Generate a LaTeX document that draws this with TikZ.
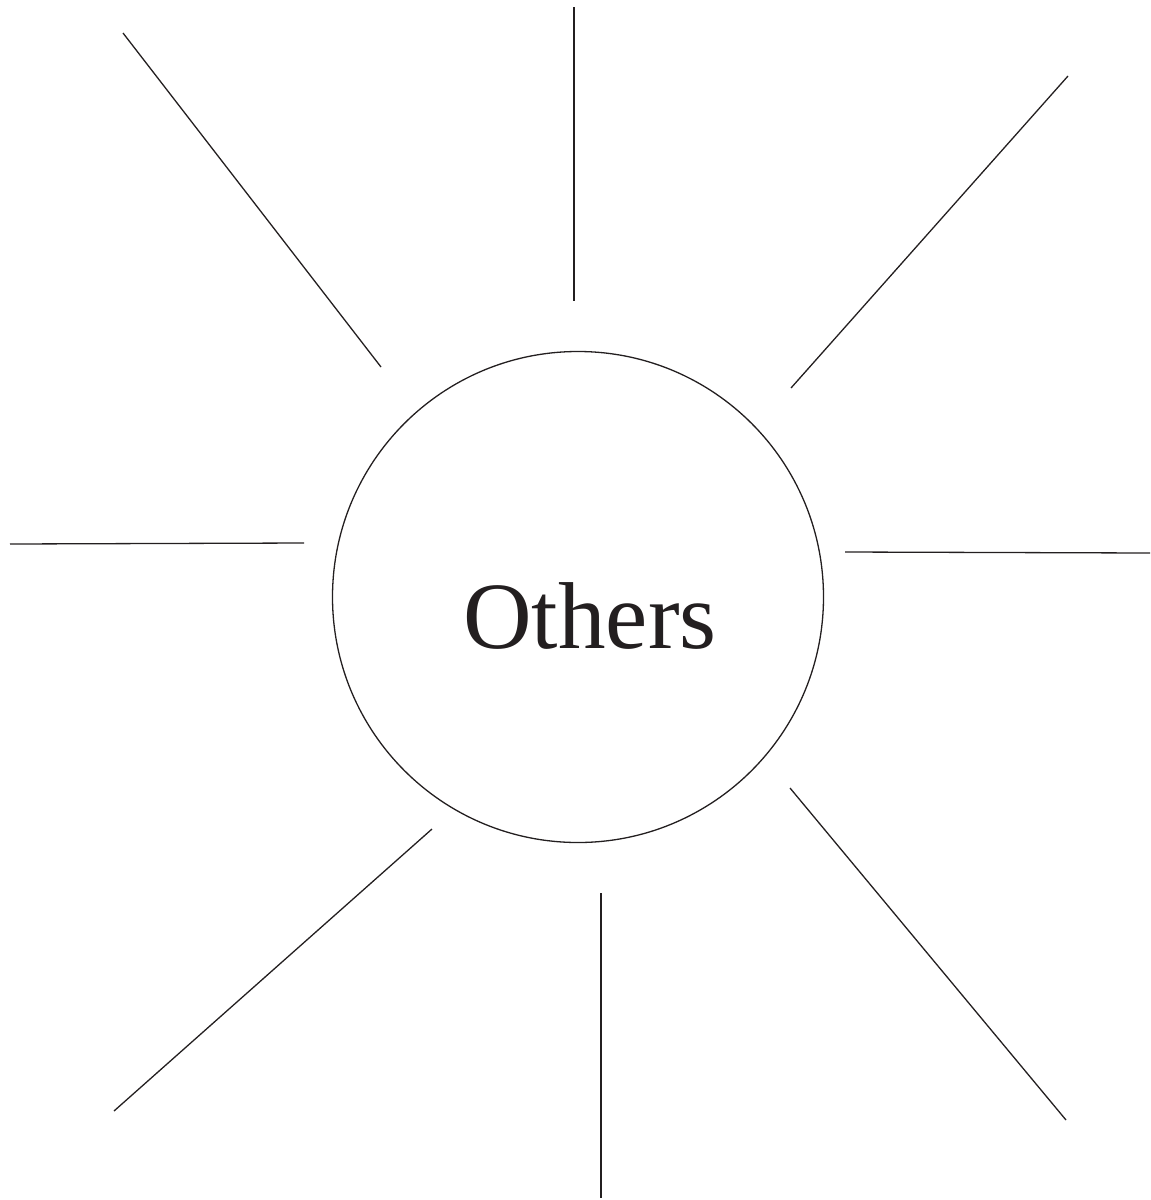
\documentclass[tikz,border=0pt]{standalone}
\usepackage{fontspec}
\setmainfont{Liberation Serif}
\definecolor{ink}{RGB}{35,31,32}
\begin{document}
\begin{tikzpicture}[x=0.5pt,y=-0.5pt,line width=0.65pt,draw=ink,text=ink]
\useasboundingbox (0,0) rectangle (1151,1200);
\draw (578,597) circle (245.5);
\node[anchor=base,inner sep=0pt,font=\fontsize{47.5}{50}\selectfont] (others) at (590,648) {Others};
% rays
\foreach \a/\b in {{123,33}/{381,367},{574,7}/{574,301},{1068,76}/{791,388},
  {10,544}/{304,543},{845,552}/{1150,553},{432,829}/{114,1111},
  {601,893}/{601,1198},{790,788}/{1066,1120}}
  \draw (\a)--(\b);
\end{tikzpicture}
\end{document}
